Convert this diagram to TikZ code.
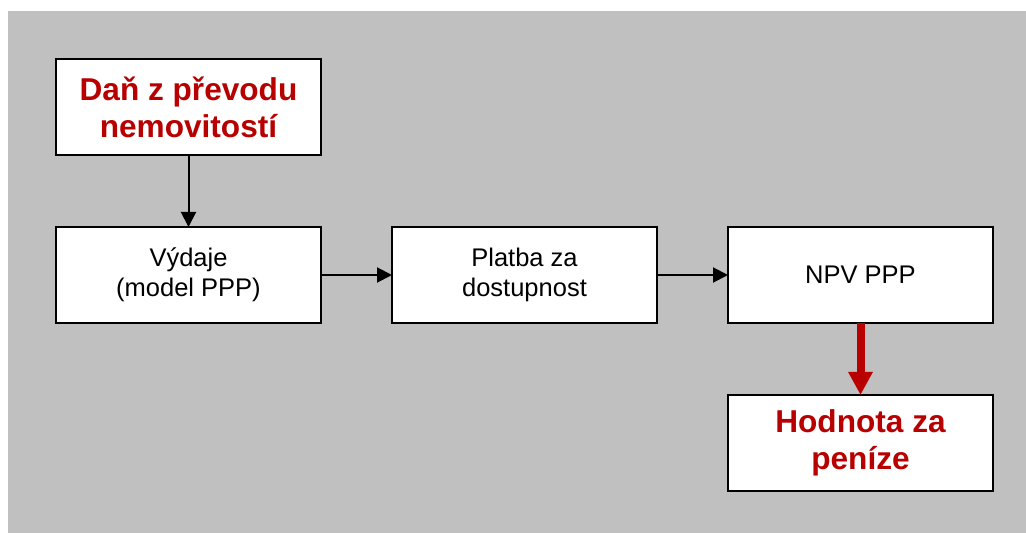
\documentclass[tikz,border=0pt]{standalone}
\usepackage{fontspec}
\setmainfont{Liberation Sans}
\usetikzlibrary{arrows.meta}
\definecolor{panelgray}{RGB}{192,192,192}
\definecolor{darkred}{RGB}{184,0,0}
\tikzset{
  box/.style={draw=black, line width=2pt, fill=white, minimum width=265pt,
    minimum height=96pt, inner sep=0pt, align=center, outer sep=0pt},
  plain/.style={box, font=\fontsize{25.5}{30}\selectfont},
  key/.style={box, text=darkred, font=\fontsize{31.6}{37}\selectfont\bfseries},
  link/.style={line width=2pt, -{Triangle[length=15pt,width=15pt]}},
  mainlink/.style={draw=darkred, line width=8pt,
    -{Triangle[length=23pt,width=23pt,fill=darkred]}}
}
\begin{document}
\begin{tikzpicture}[x=1pt,y=1pt]
  \useasboundingbox (0,0) rectangle (1026,533);
  \fill[panelgray] (8,0) rectangle (1026,522);

  \node[key]   (tax)    at (188.5,426) {Daň z převodu\\nemovitostí};
  \node[plain] (cost)   at (188.5,258) {Výdaje\\(model PPP)};
  \node[plain] (pay)    at (524.5,258) {Platba za\\dostupnost};
  \node[plain] (npv)    at (860.5,258) {NPV PPP};
  \node[key]   (value)  at (860.5,90)  {Hodnota za\\peníze};

  \draw[link] (tax.south) -- (cost.north);
  \draw[link] (cost.east) -- (pay.west);
  \draw[link] (pay.east) -- (npv.west);
  \draw[mainlink] (npv.south) -- (value.north);
\end{tikzpicture}
\end{document}
